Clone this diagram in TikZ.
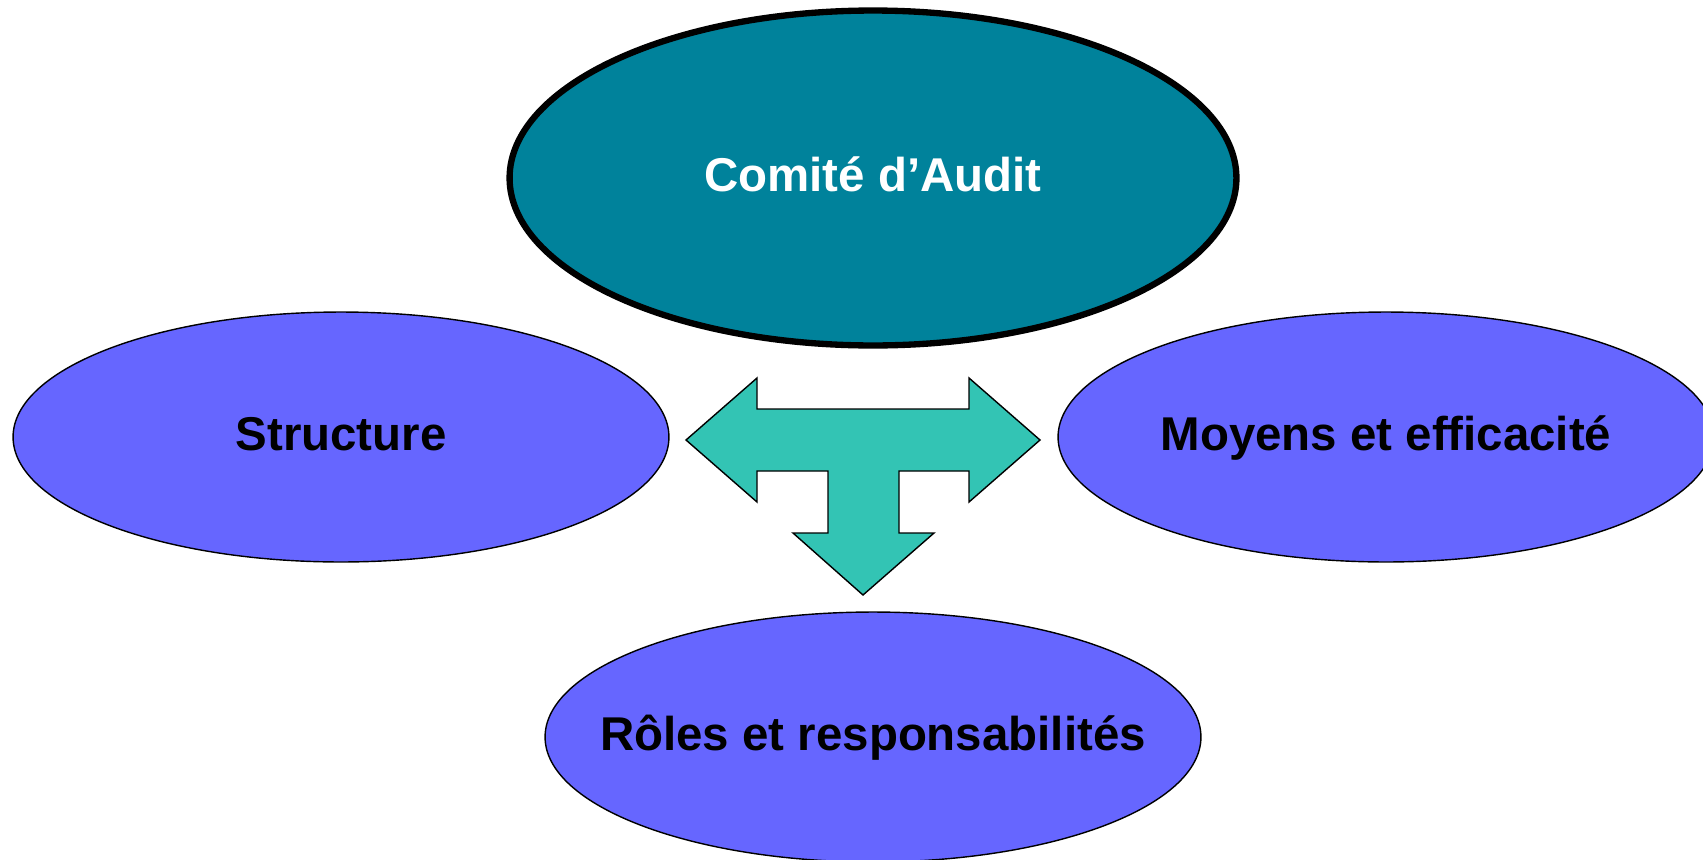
\documentclass[tikz,border=0pt]{standalone}
\usepackage{fontspec}
\setmainfont{Liberation Sans}
\usetikzlibrary{shapes.geometric}
\definecolor{auditteal}{RGB}{0,130,155}
\definecolor{topicblue}{RGB}{102,102,255}
\definecolor{arrowteal}{RGB}{51,196,180}
\tikzset{
  topic/.style={ellipse,draw=black,fill=topicblue,line width=0.8pt,inner sep=0pt,
    minimum width=13.12cm,minimum height=5cm,
    label={[font=\fontsize{27}{32}\selectfont\bfseries,text height=20pt,text depth=5pt]center:#1}}
}
\begin{document}
\begin{tikzpicture}[x=0.02cm,y=-0.02cm]
\useasboundingbox (0,0) rectangle (1703,859);

\node[topic={\textcolor{white}{Comité d’Audit}},fill=auditteal,line width=3.6pt,minimum width=14.54cm,minimum height=6.7cm] (audit) at (873,178) {};
\node[topic=Structure] (structure) at (341,437) {};
\node[topic=Moyens et efficacité] (moyens) at (1386,437) {};
\node[topic=Rôles et responsabilités] (roles) at (873,737) {};

% T-shaped arrow
\draw[fill=arrowteal,line width=0.8pt] (686,440) -- (757,378) -- (757,409) -- (969,409)
  -- (969,378) -- (1040,440) -- (969,502) -- (969,471) -- (899,471) -- (899,533)
  -- (934,533) -- (863,595) -- (793,533) -- (828,533) -- (828,471) -- (757,471)
  -- (757,502) -- cycle;
\end{tikzpicture}
\end{document}
